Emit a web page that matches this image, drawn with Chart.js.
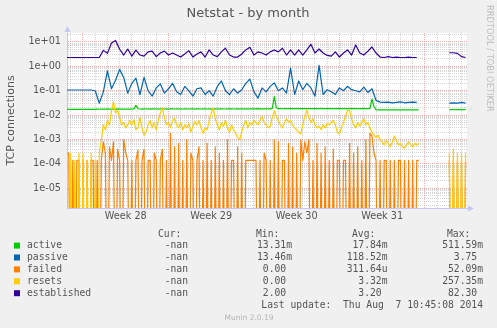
<!DOCTYPE html>
<html lang="en">

<head>
    <meta charset="UTF-8">
    <title>Netstat - by month</title>
    <script src="https://cdn.jsdelivr.net/npm/chart.js"></script>
    <style>
        html, body { margin: 0; padding: 0; background: #f0f0f0; }
        canvas { display: block; }
    </style>
</head>

<body>
    <canvas id="netstatChart" width="497" height="328"></canvas>

    <script>
        // x axis is in days since Mon 7 Jul 2014 00:00 (start of week 28)
        const axisStart = -1.31;
        const axisEnd = 31.45;
        const weekStarts = [0, 7, 14, 21, 28];
        const weekLabels = ['Week 28', 'Week 29', 'Week 30', 'Week 31'];

        // y axis (log)
        const yMin = 1.56e-6;
        const yMax = 23.2;
        const yDecades = [1e-5, 1e-4, 1e-3, 1e-2, 1e-1, 1e0, 1e1];
        const yTickLabels = ['1e-05', '1e-04', '1e-03', '1e-02', '1e-01', '1e+00', '1e+01'];

        // samples start Sat 5 Jul 16:00
        const firstSample = -4 / 3;
        const step4h = 1 / 6;
        const step8h = 1 / 3;

        // connections per second, 4 hour samples
        const activeValues = [
            0.0173, 0.0172, 0.0174, 0.0173, 0.0171, 0.0173, 0.0174, 0.0172, 0.0173, 0.0173,
            0.0172, 0.0174, 0.0173, 0.0171, 0.0173, 0.0175, 0.0174, 0.0176, 0.0178, 0.0176,
            0.0177, 0.0175, 0.0178, 0.0176, 0.0177, 0.0179, 0.0176, 0.0177, 0.0178, 0.0176,
            0.0177, 0.0178, 0.0176, 0.0180, 0.0250, 0.0182, 0.0178, 0.0177, 0.0179, 0.0178,
            0.0180, 0.0177, 0.0179, 0.0181, 0.0178, 0.0177, 0.0179, 0.0180, 0.0178, 0.0179,
            0.0177, 0.0179, 0.0180, 0.0178, 0.0181, 0.0179, 0.0177, 0.0178, 0.0180, 0.0179,
            0.0178, 0.0180, 0.0179, 0.0177, 0.0179, 0.0181, 0.0178, 0.0179, 0.0180, 0.0178,
            0.0179, 0.0177, 0.0180, 0.0179, 0.0178, 0.0180, 0.0182, 0.0179, 0.0178, 0.0180,
            0.0179, 0.0181, 0.0178, 0.0180, 0.0179, 0.0182, 0.0180, 0.0179, 0.0181, 0.0180,
            0.0182, 0.0180, 0.0179, 0.0181, 0.0183, 0.0180, 0.0182, 0.0181, 0.0180, 0.0182,
            0.0181, 0.0190, 0.0570, 0.0200, 0.0183, 0.0184, 0.0182, 0.0185, 0.0184, 0.0183,
            0.0185, 0.0184, 0.0186, 0.0183, 0.0185, 0.0184, 0.0186, 0.0185, 0.0183, 0.0185,
            0.0186, 0.0184, 0.0185, 0.0187, 0.0184, 0.0185, 0.0186, 0.0184, 0.0185, 0.0183,
            0.0185, 0.0186, 0.0184, 0.0185, 0.0187, 0.0185, 0.0184, 0.0186, 0.0185, 0.0184,
            0.0186, 0.0185, 0.0183, 0.0185, 0.0186, 0.0184, 0.0185, 0.0186, 0.0185, 0.0190,
            0.0450, 0.0220, 0.0168, 0.0165, 0.0166, 0.0164, 0.0165, 0.0166, 0.0165, 0.0164,
            0.0165, 0.0166, 0.0165, 0.0164, 0.0165, 0.0166, 0.0165, 0.0164, 0.0165, 0.0166,
            0.0165, 0.0164, 0.0165, 0.0166, null, null, null, null, null, null,
            null, null, null, null, null, null, null, null, 0.0168, 0.0167,
            0.0168, 0.0167, 0.0168, 0.0169, 0.0167, 0.0168, 0.0167
        ];

        const failedValues = [
            2.8e-4, 2.8e-4, 0, 1.4e-4, 0, 1.4e-4, 1.4e-4, 0, 1.4e-4, 0,
            1.4e-4, 0, 1.4e-4, 1.4e-4, 0, 1.4e-4, 0, 1.4e-4, 8e-4, 2.8e-4,
            0, 5e-4, 1.4e-4, 8e-4, 0, 4e-4, 1.4e-4, 0, 1e-3, 2.8e-4,
            1.4e-4, 0, 1.4e-4, 0, 1.4e-4, 3.7e-4, 0, 1.4e-4, 4e-4, 0,
            1.4e-4, 1.4e-4, 0, 2.8e-4, 1.4e-4, 0, 1.4e-4, 4e-4, 0, 1.4e-4,
            0, 1.8e-3, 0, 5e-4, 0, 7e-4, 0, 1.4e-4, 0, 1e-3,
            0, 2.8e-4, 1.4e-4, 0, 1.4e-4, 5e-4, 0, 1.4e-4, 0, 7e-4,
            0, 1.4e-4, 0, 5e-4, 0, 2.8e-4, 0, 1.4e-4, 0, 1e-3,
            0, 1.4e-4, 1.4e-4, 0, 5e-4, 0, 2.8e-4, 0, 1.4e-4, 1.4e-4,
            1.4e-4, 1.4e-4, 1.4e-4, 1.4e-4, 0, 1.4e-4, 0, 2.8e-4, 1.4e-4, 0,
            1.4e-4, 0, 1e-3, 0, 8e-4, 0, 1.4e-4, 1.4e-4, 0, 7e-4,
            0, 5e-4, 0, 2.8e-4, 0, 1e-3, 1.4e-4, 8e-4, 2.8e-4, 1e-3,
            0, 1.4e-4, 0, 7e-4, 0, 2.8e-4, 0, 5e-4, 0, 1.4e-4,
            0, 4e-4, 0, 1.4e-4, 1.4e-4, 0, 1.4e-4, 1.4e-4, 0, 7e-4,
            0, 2.8e-4, 0, 5e-4, 0, 1.4e-4, 0, 1e-3, 0, 1.8e-3,
            1.4e-3, 2.8e-4, 1.4e-4, 0, 1.4e-4, 0, 1.4e-4, 1.4e-4, 0, 1.4e-4,
            0, 1.4e-4, 0, 1.4e-4, 1.4e-4, 0, 1.4e-4, 0, 1.4e-4, 0,
            1.4e-4, 0, 1.4e-4, 1.4e-4, null, null, null, null, null, null,
            null, null, null, null, null, null, null, null, 1.4e-4, 0,
            1.4e-4, 0, 1.4e-4, 0, 1.4e-4, 0, 1.4e-4
        ];

        const resetsValues = [
            1.4e-4, 0, 2.8e-4, 0, 1.4e-4, 0, 2.8e-4, 0, 2.8e-4, 0,
            1.4e-4, 0, 2.8e-4, 0, 1.4e-4, 0, 2.8e-4, 9e-4, 4e-3, 2.5e-3,
            6e-3, 4e-3, 1.5e-2, 3.5e-2, 1.2e-2, 1.6e-2, 8e-3, 4e-3, 5e-3, 3e-3,
            4e-3, 6e-3, 4e-3, 6.5e-3, 2.5e-3, 3e-3, 8e-3, 3e-3, 1.5e-3, 2e-3,
            4e-3, 6e-3, 3e-3, 5e-3, 2.5e-3, 6e-3, 1.2e-2, 2e-2, 8e-3, 4e-3,
            5e-3, 3e-3, 6e-3, 7.5e-3, 4e-3, 3e-3, 5e-3, 2.5e-3, 4e-3, 3e-3,
            4.5e-3, 2e-3, 3.5e-3, 5.5e-3, 4e-3, 6e-3, 3e-3, 1.8e-3, 3e-3, 2.5e-3,
            6e-3, 1.2e-2, 2e-2, 7e-3, 4e-3, 2.5e-3, 5e-3, 3.5e-3, 6e-3, 3e-3,
            2e-3, 4e-3, 2.5e-3, 1.8e-3, 1.2e-3, 1e-3, 2e-3, 4e-3, 6e-3, 3e-3,
            5e-3, 4e-3, 6e-3, 5e-3, 4e-3, 6e-3, 8.5e-3, 5e-3, 4e-3, 3e-3,
            3.5e-3, 8e-3, 1.5e-2, 9e-3, 6e-3, 4e-3, 3e-3, 5e-3, 7e-3, 5e-3,
            6e-3, 4e-3, 3e-3, 2.5e-3, 2e-3, 1.7e-3, 4e-3, 9e-3, 1.6e-2, 8e-3,
            5e-3, 7e-3, 4e-3, 3e-3, 3.5e-3, 2.5e-3, 4e-3, 3e-3, 4.5e-3, 4e-3,
            5e-3, 6e-3, 4e-3, 2e-3, 1.7e-3, 3e-3, 5e-3, 9e-3, 1.6e-2, 1.5e-2,
            7e-3, 4e-3, 3e-3, 5e-3, 3.5e-3, 5e-3, 7e-3, 4e-3, 5e-3, 3e-3,
            2e-3, 1.5e-3, 1.2e-3, 1.5e-3, 1e-3, 8e-4, 6e-4, 9e-4, 7e-4, 5e-4,
            8e-4, 1.4e-3, 9e-4, 6e-4, 7e-4, 5e-4, 4.5e-4, 6e-4, 8e-4, 6e-4,
            5e-4, 7e-4, 6e-4, 7e-4, null, null, null, null, null, null,
            null, null, null, null, null, null, null, null, 2.8e-4, 0,
            4e-4, 0, 2.8e-4, 0, 2.8e-4, 0, 2.8e-4
        ];

        // 8 hour samples
        const passiveValues = [
            0.107, 0.107, 0.107, 0.107, 0.107, 0.107, 0.107, 0.1, 0.031, 0.09,
            0.65, 0.12, 0.27, 0.75, 0.35, 0.08, 0.2, 0.33, 0.07, 0.35,
            0.1, 0.06, 0.13, 0.19, 0.08, 0.12, 0.2, 0.09, 0.07, 0.15,
            0.1, 0.06, 0.12, 0.13, 0.07, 0.1, 0.06, 0.15, 0.25, 0.1,
            0.07, 0.12, 0.08, 0.11, 0.2, 0.3, 0.09, 0.05, 0.13, 0.09,
            0.15, 0.21, 0.1, 0.13, 0.08, 0.85, 0.07, 0.25, 0.11, 0.2,
            0.13, 0.06, 1.1, 0.07, 0.11, 0.09, 0.07, 0.13, 0.1, 0.15,
            0.11, 0.1, 0.09, 0.14, 0.085, 0.12, 0.04, 0.034, 0.033, 0.034,
            0.032, 0.033, 0.035, 0.032, 0.033, 0.034, 0.033, null, null, null,
            null, null, null, null, 0.031, 0.032, 0.031, 0.033, 0.031
        ];

        const establishedValues = [
            2.3, 2.3, 2.3, 2.3, 2.3, 2.3, 2.3, 2.3, 2.3, 4.5,
            3.4, 9.0, 11.5, 5.0, 2.9, 5.1, 2.6, 4.6, 2.9, 2.6,
            3.9, 4.2, 2.5, 3.5, 4.2, 2.9, 3.5, 2.9, 2.4, 3.2,
            4.4, 2.4, 3.2, 3.9, 2.4, 4.7, 2.9, 2.5, 3.9, 5.5,
            2.9, 2.4, 2.4, 3.2, 4.7, 6.0, 2.9, 3.9, 3.5, 2.9,
            3.9, 4.7, 3.9, 5.5, 2.9, 4.7, 2.9, 4.7, 2.9, 4.7,
            8.0, 3.5, 5.1, 3.5, 2.8, 2.6, 3.9, 2.4, 3.5, 4.7,
            2.9, 7.5, 3.5, 2.9, 4.2, 6.2, 3.5, 2.4, 2.3, 2.5,
            2.3, 2.4, 2.3, 2.3, 2.4, 2.3, 2.3, null, null, null,
            null, null, null, null, 3.6, 3.6, 3.4, 2.5, 2.3
        ];

        // legend table
        const seriesNames = ['active', 'passive', 'failed', 'resets', 'established'];
        const curText = ['-nan', '-nan', '-nan', '-nan', '-nan'];
        const minText = ['13.31m', '13.46m', '0.00 ', '0.00 ', '2.00 '];
        const avgText = ['17.84m', '118.52m', '311.64u', '3.32m', '3.20 '];
        const maxText = ['511.59m', '3.75 ', '52.09m', '257.35m', '82.30 '];
        const lastUpdate = 'Last update:  Thu Aug  7 10:45:08 2014';

        const seriesColors = ['#00cc00', '#0066b3', '#ff8000', '#ffcc00', '#330099'];
        const textColor = '#555555';
        const axisColor = '#c6c6f2';
        const gridMinor = 'rgba(150,150,150,0.4)';
        const gridMajor = 'rgba(240,100,100,0.5)';
        const sans = '"DejaVu Sans", sans-serif';
        const mono = '"DejaVu Sans Mono", monospace';

        // zero can't sit on a log axis, push it below the bottom and let clipping cut it
        const belowAxis = 1e-12;

        function toPoints(values, step) {
            return values.map((v, i) => ({
                x: firstSample + i * step,
                y: v === null ? null : (v > 0 ? v : belowAxis)
            }));
        }

        // vertical grid: one line a day, red at week start, labels mid-week
        const xTicks = [];
        for (let d = Math.ceil(axisStart); d <= Math.floor(axisEnd); d++) {
            xTicks.push({ value: d, major: weekStarts.includes(d) });
        }
        weekLabels.forEach((label, k) => {
            xTicks.push({ value: weekStarts[k] + 3.5, weekLabel: label });
        });
        xTicks.sort((a, b) => a.value - b.value);

        // horizontal grid: decades in red, 2..9 in grey
        const yTicks = [];
        [1e-6].concat(yDecades).forEach(dec => {
            for (let m = 1; m <= 9; m++) {
                const v = m * dec;
                if (v <= yMin || v >= yMax) continue;
                const k = yDecades.indexOf(v);
                yTicks.push({ value: v, major: m === 1, decadeLabel: k >= 0 ? yTickLabels[k] : '' });
            }
        });
        yTicks.sort((a, b) => a.value - b.value);

        const muninFrame = {
            id: 'muninFrame',
            beforeDraw(chart) {
                const { ctx, chartArea: a } = chart;
                ctx.save();
                ctx.fillStyle = '#f0f0f0';
                ctx.fillRect(0, 0, chart.width, chart.height);
                ctx.fillStyle = '#ffffff';
                ctx.fillRect(a.left, a.top, a.right - a.left, a.bottom - a.top);
                ctx.restore();
            },
            afterDraw(chart) {
                const { ctx, chartArea: a } = chart;
                ctx.save();

                // axis arrows
                ctx.fillStyle = axisColor;
                ctx.beginPath();
                ctx.moveTo(a.left + 0.5, a.top - 7);
                ctx.lineTo(a.left - 2.5, a.top - 1);
                ctx.lineTo(a.left + 3.5, a.top - 1);
                ctx.closePath();
                ctx.fill();
                ctx.beginPath();
                ctx.moveTo(a.right + 7, a.bottom + 0.5);
                ctx.lineTo(a.right + 1, a.bottom - 2.5);
                ctx.lineTo(a.right + 1, a.bottom + 3.5);
                ctx.closePath();
                ctx.fill();

                // title
                ctx.fillStyle = textColor;
                ctx.font = '13px ' + sans;
                ctx.textAlign = 'center';
                ctx.textBaseline = 'middle';
                ctx.fillText('Netstat - by month', 248, 14);

                // side watermark
                ctx.save();
                ctx.translate(489, 5);
                ctx.rotate(Math.PI / 2);
                ctx.fillStyle = '#bdbdbd';
                ctx.font = '8.3px ' + sans;
                ctx.textAlign = 'left';
                ctx.fillText('RRDTOOL / TOBI OETIKER', 0, 0);
                ctx.restore();

                // legend table
                ctx.font = '9.7px ' + mono;
                ctx.fillStyle = textColor;
                ctx.textAlign = 'left';
                ctx.fillText('Cur:', 158, 234.5);
                ctx.fillText('Min:', 256, 234.5);
                ctx.fillText('Avg:', 352, 234.5);
                ctx.fillText('Max:', 447, 234.5);

                seriesNames.forEach((name, k) => {
                    const y = 245.6 + k * 11.9;
                    ctx.fillStyle = seriesColors[k];
                    ctx.fillRect(14, y - 3, 6, 6);
                    ctx.fillStyle = textColor;
                    ctx.textAlign = 'left';
                    ctx.fillText(name, 27, y);
                    ctx.textAlign = 'right';
                    ctx.fillText(curText[k], 188, y);
                    ctx.fillText(minText[k], 292, y);
                    ctx.fillText(avgText[k], 387.5, y);
                    ctx.fillText(maxText[k], 483, y);
                });

                ctx.textAlign = 'right';
                ctx.fillText(lastUpdate, 483, 305.6);

                ctx.fillStyle = '#b4b4b4';
                ctx.font = '7.5px ' + sans;
                ctx.textAlign = 'center';
                ctx.fillText('Munin 2.0.19', 249, 317.7);

                ctx.restore();
            }
        };

        const lineStyle = {
            borderWidth: 1.2,
            pointRadius: 0,
            tension: 0,
            fill: false,
            spanGaps: false,
            borderJoinStyle: 'round'
        };

        const ctx = document.getElementById('netstatChart').getContext('2d');
        new Chart(ctx, {
            type: 'line',
            data: {
                datasets: [
                    { ...lineStyle, label: 'active', data: toPoints(activeValues, step4h), borderColor: seriesColors[0], order: 5 },
                    { ...lineStyle, label: 'passive', data: toPoints(passiveValues, step8h), borderColor: seriesColors[1], order: 4 },
                    { ...lineStyle, label: 'failed', data: toPoints(failedValues, step4h), borderColor: seriesColors[2], order: 3 },
                    { ...lineStyle, label: 'resets', data: toPoints(resetsValues, step4h), borderColor: seriesColors[3], order: 2 },
                    { ...lineStyle, label: 'established', data: toPoints(establishedValues, step8h), borderColor: seriesColors[4], order: 1 }
                ]
            },
            options: {
                responsive: false,
                animation: false,
                events: [],
                layout: { padding: { top: 33, right: 30, left: 0, bottom: 0 } },
                plugins: {
                    legend: { display: false },
                    tooltip: { enabled: false },
                    title: { display: false }
                },
                scales: {
                    x: {
                        type: 'linear',
                        min: axisStart,
                        max: axisEnd,
                        afterFit: scale => { scale.height = 120; },
                        afterBuildTicks: scale => { scale.ticks = xTicks.map(t => ({ ...t })); },
                        grid: {
                            drawTicks: false,
                            lineWidth: 1,
                            color: c => {
                                if (!c.tick) return gridMinor;
                                if (c.tick.weekLabel) return 'rgba(0,0,0,0)';
                                return c.tick.major ? gridMajor : gridMinor;
                            }
                        },
                        border: { color: axisColor, width: 1, dash: [1, 1] },
                        ticks: {
                            autoSkip: false,
                            maxRotation: 0,
                            minRotation: 0,
                            padding: 3,
                            color: textColor,
                            font: { family: sans, size: 9.7 },
                            callback: (value, index, ticks) => ticks[index].weekLabel || ''
                        }
                    },
                    y: {
                        type: 'logarithmic',
                        min: yMin,
                        max: yMax,
                        afterFit: scale => { scale.width = 67; },
                        afterBuildTicks: scale => { scale.ticks = yTicks.map(t => ({ ...t })); },
                        grid: {
                            drawTicks: false,
                            lineWidth: 1,
                            color: c => (c.tick && c.tick.major ? gridMajor : gridMinor)
                        },
                        border: { color: axisColor, width: 1, dash: [1, 1] },
                        title: {
                            display: true,
                            text: 'TCP connections',
                            color: textColor,
                            font: { family: sans, size: 11 },
                            padding: { top: 5, bottom: 0 }
                        },
                        ticks: {
                            autoSkip: false,
                            padding: 6,
                            color: textColor,
                            font: { family: sans, size: 9.7 },
                            callback: (value, index, ticks) => ticks[index].decadeLabel || ''
                        }
                    }
                }
            },
            plugins: [muninFrame]
        });
    </script>
</body>

</html>
